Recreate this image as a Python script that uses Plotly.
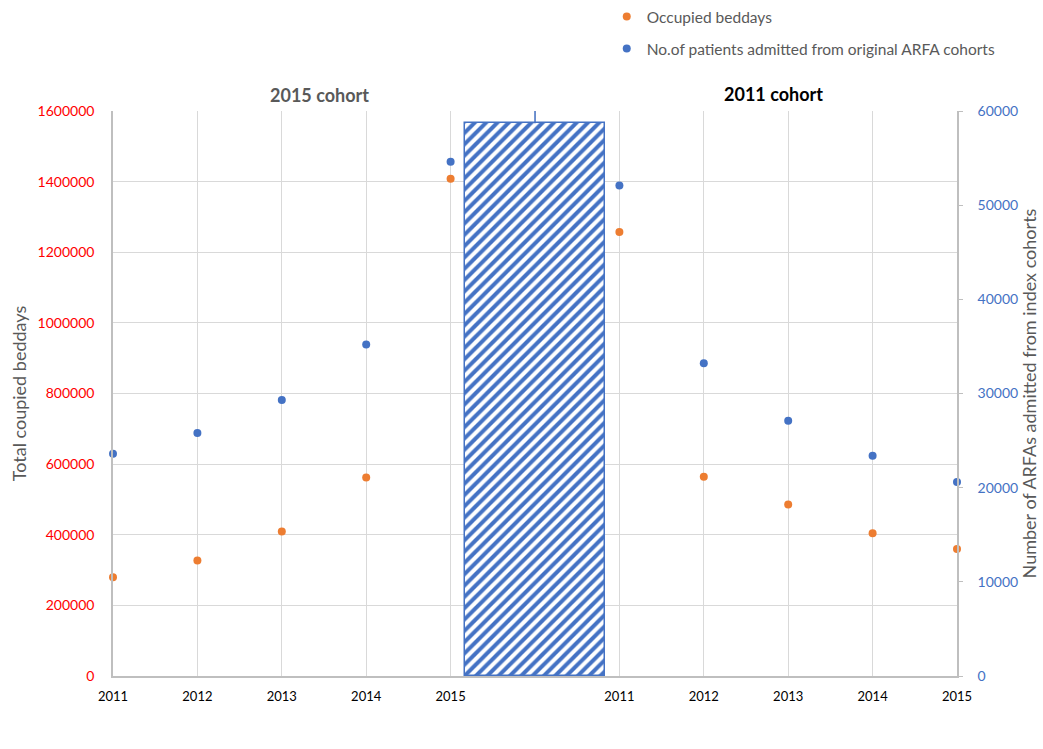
import plotly.graph_objects as go

# ---- data ----
years = ["2011", "2012", "2013", "2014", "2015"]
cohorts = ["2015 cohort", "2011 cohort"]
beddays_2015_cohort = [280000, 327000, 409000, 562000, 1408000]
admitted_2015_cohort = [23600, 25800, 29300, 35200, 54600]
beddays_2011_cohort = [1257000, 564000, 486000, 404000, 360000]
admitted_2011_cohort = [52100, 33200, 27100, 23400, 20600]
separator_value = 1565000
separator_whisker = 35000
left_ticks = [0, 200000, 400000, 600000, 800000, 1000000, 1200000, 1400000, 1600000]
right_ticks = [0, 10000, 20000, 30000, 40000, 50000, 60000]

ORANGE = "#ED7D31"
BLUE = "#4472C4"
GRID = "#D9D9D9"
AXIS = "#BFBFBF"
FONT = "Lato"

n = len(years)
x_left = list(range(n))
x_gap = n
x_right = [n + 1 + i for i in range(n)]
x_all = x_left + x_right
tickvals = list(range(2 * n + 1))
ticktext = years + [""] + years

fig = go.Figure()

fig.add_trace(go.Bar(
    x=[x_gap], y=[separator_value], width=[1.66],
    marker=dict(color="white",
                line=dict(color=BLUE, width=1.5),
                pattern=dict(shape="/", fgcolor=BLUE, bgcolor="white",
                             size=8, solidity=0.5, fgopacity=1)),
    error_y=dict(type="data", symmetric=False, array=[separator_whisker],
                 arrayminus=[0], color=BLUE, thickness=1.5, width=0),
    showlegend=False, hoverinfo="skip",
))

fig.add_trace(go.Scatter(
    x=x_all, y=beddays_2015_cohort + beddays_2011_cohort,
    mode="markers", name="Occupied beddays",
    marker=dict(color=ORANGE, size=8), cliponaxis=False,
    legend="legend",
))
fig.add_trace(go.Scatter(
    x=x_all, y=admitted_2015_cohort + admitted_2011_cohort,
    mode="markers", name="No.of patients admitted from original ARFA cohorts",
    marker=dict(color=BLUE, size=8), cliponaxis=False,
    yaxis="y2", legend="legend2",
))

fig.update_layout(
    width=1043, height=749,
    margin=dict(l=113, r=86, t=111, b=73, autoexpand=False),
    paper_bgcolor="white", plot_bgcolor="white",
    font=dict(family=FONT, size=14, color="#595959"),
    bargap=0,
    xaxis=dict(range=[0, 2 * n], tickmode="array", tickvals=tickvals, ticktext=ticktext,
               showgrid=True, gridcolor=GRID, gridwidth=1,
               showline=True, linecolor=AXIS, linewidth=1.5,
               zeroline=False, ticks="", ticklabelstandoff=8,
               tickfont=dict(size=13, color="black")),
    yaxis=dict(range=[0, 1600000], tickmode="array", tickvals=left_ticks, tickformat="d",
               showgrid=True, gridcolor=GRID, gridwidth=1,
               showline=True, linecolor=AXIS, linewidth=1.5, zeroline=False,
               ticks="", ticklabelstandoff=14,
               tickfont=dict(size=14, color="#FF0000"),
               title=dict(text="Total coupied beddays", font=dict(size=18, color="#595959"),
                          standoff=6)),
    yaxis2=dict(range=[0, 60000], tickmode="array", tickvals=right_ticks, tickformat="d",
                overlaying="y", side="right", showgrid=False, zeroline=False,
                showline=True, linecolor=AXIS, linewidth=1.5,
                ticks="outside", ticklen=4, tickcolor=AXIS,
                ticklabelstandoff=12,
                tickfont=dict(size=14, color=BLUE),
                title=dict(text="Number of ARFAs admitted from index cohorts",
                           font=dict(size=18, color="#595959"), standoff=6)),
    legend=dict(x=0.585, y=(676 - 17) / 565, xanchor="left", yanchor="middle",
                bgcolor="rgba(0,0,0,0)", font=dict(size=15.5, color="#595959")),
    legend2=dict(x=0.585, y=(676 - 49) / 565, xanchor="left", yanchor="middle",
                 bgcolor="rgba(0,0,0,0)", font=dict(size=15.5, color="#595959")),
    annotations=[
        dict(text="<b>" + cohorts[0] + "</b>", x=2.45, y=(676 - 95) / 565,
             xref="x", yref="paper", yanchor="middle", showarrow=False,
             font=dict(size=18, color="#595959")),
        dict(text="<b>" + cohorts[1] + "</b>", x=7.82, y=(676 - 94) / 565,
             xref="x", yref="paper", yanchor="middle", showarrow=False,
             font=dict(size=18, color="black")),
    ],
)

fig.write_html("out.html")
